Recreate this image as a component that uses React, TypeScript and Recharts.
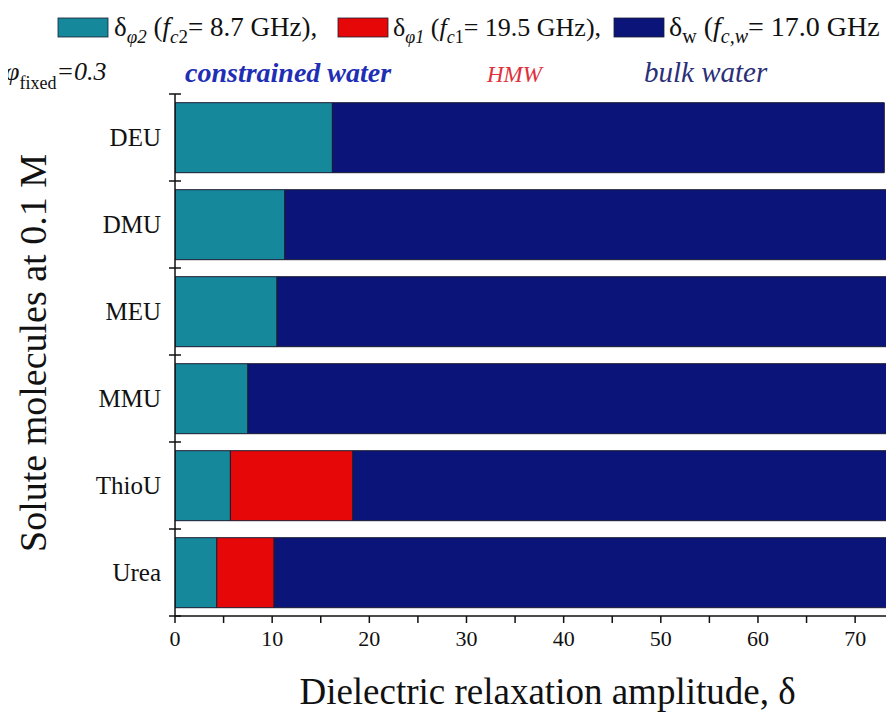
import React from 'react';
import { BarChart, Bar, XAxis, YAxis, Legend, Label } from 'recharts';

const categories = ['DEU', 'DMU', 'MEU', 'MMU', 'ThioU', 'Urea'];
const constrainedWater = [16.2, 11.3, 10.5, 7.5, 5.7, 4.3];
const hmwWater = [0, 0, 0, 0, 12.6, 5.9];
const bulkWater = [56.8, 63.7, 64.5, 67.5, 56.7, 64.8];
const xTicks = [0, 5, 10, 15, 20, 25, 30, 35, 40, 45, 50, 55, 60, 65, 70];

const data = categories.map((name, i) => ({
  name,
  phi2: constrainedWater[i],
  phi1: hmwWater[i],
  w: bulkWater[i],
}));

const FONT = '"Liberation Serif", "Times New Roman", Times, serif';
const TEAL = '#16889c';
const RED = '#e60808';
const NAVY = '#0b1479';
const EDGE = '#1c1c30';
const AXW = 0.01;
const CAT_MARGIN = 14;
const CROSS = 6;

function CatTick(props: any) {
  const { x, y, payload, index, visibleTicksCount } = props;
  const ax = x + CAT_MARGIN;
  const half = payload && typeof payload.offset === 'number' && payload.offset > 0 ? payload.offset : 0;
  const count = visibleTicksCount || categories.length;
  return (
    <g>
      <text
        x={x}
        y={y}
        textAnchor="end"
        dominantBaseline="central"
        fontSize={25}
        fontFamily={FONT}
        fill="#111"
      >
        {payload.value}
      </text>
      <line x1={ax - CROSS} x2={ax + CROSS} y1={y - half} y2={y - half} stroke="#111" strokeWidth={1.5} />
      {index === count - 1 && (
        <line x1={ax - CROSS} x2={ax + CROSS} y1={y + half} y2={y + half} stroke="#111" strokeWidth={1.5} />
      )}
    </g>
  );
}

function LegendBlock() {
  return (
    <svg width={886} height={100} style={{ display: 'block', overflow: 'visible' }} fontFamily={FONT}>
      <rect x={50} y={10} width={50} height={19} fill={TEAL} stroke={EDGE} strokeWidth={0.8} />
      <text x={106} y={28} fontSize={27} fill="#111">
        δ<tspan dy={7} fontSize={19} fontStyle="italic">φ2</tspan>
        <tspan dy={-7}> (</tspan>
        <tspan fontStyle="italic">f</tspan>
        <tspan dy={7} fontSize={19} fontStyle="italic">c</tspan>
        <tspan fontSize={19}>2</tspan>
        <tspan dy={-7}>= 8.7 GHz),</tspan>
      </text>
      <rect x={330} y={10} width={50} height={19} fill={RED} stroke={EDGE} strokeWidth={0.8} />
      <text x={385} y={28} fontSize={26} fill="#111">
        δ<tspan dy={7} fontSize={18} fontStyle="italic">φ1</tspan>
        <tspan dy={-7}> (</tspan>
        <tspan fontStyle="italic">f</tspan>
        <tspan dy={7} fontSize={18} fontStyle="italic">c</tspan>
        <tspan fontSize={18}>1</tspan>
        <tspan dy={-7}>= 19.5 GHz),</tspan>
      </text>
      <rect x={606} y={10} width={50} height={19} fill={NAVY} stroke={EDGE} strokeWidth={0.8} />
      <text x={661} y={28} fontSize={28} fill="#111">
        δ<tspan dy={7} fontSize={20}>w</tspan>
        <tspan dy={-7}> (</tspan>
        <tspan fontStyle="italic">f</tspan>
        <tspan dy={7} fontSize={20} fontStyle="italic">c,w</tspan>
        <tspan dy={-7}>= 17.0 GHz</tspan>
      </text>

      <text x={-3} y={72} fontSize={26} fill="#111" fontStyle="italic">
        φ<tspan dy={9} fontSize={18} fontStyle="normal">fixed</tspan>
        <tspan dy={-9}>=0.3</tspan>
      </text>
      <text x={177} y={74} fontSize={28} fill="#1f2fb5" fontStyle="italic" fontWeight="bold">
        constrained water
      </text>
      <text x={479} y={74} fontSize={23} fill="#e0303c" fontStyle="italic">
        HMW
      </text>
      <text x={636} y={74} fontSize={29} fill="#2b2f78" fontStyle="italic">
        bulk water
      </text>
    </svg>
  );
}

function YTitle(props: any) {
  const vb = props.viewBox || { x: 167, y: 86, width: 0, height: 522 };
  const cx = vb.x + vb.width - 142;
  const cy = vb.y + vb.height / 2 - 2;
  return (
    <text
      x={cx}
      y={cy}
      transform={`rotate(-90 ${cx} ${cy})`}
      textAnchor="middle"
      dominantBaseline="central"
      fontSize={38}
      fontFamily={FONT}
      fill="#111"
    >
      Solute molecules at 0.1 M
    </text>
  );
}

function XTitle(props: any) {
  const vb = props.viewBox || { x: 167, y: 608, width: 719, height: 104 };
  const cx = vb.x + vb.width / 2 + 13;
  const y = vb.y + 88;
  return (
    <text x={cx} y={y} textAnchor="middle" fontSize={37} fontFamily={FONT} fill="#111">
      Dielectric relaxation amplitude, δ
    </text>
  );
}

export default function App() {
  return (
    <div style={{ width: 886, height: 704, overflow: 'visible' }}>
      <BarChart
        width={886}
        height={712}
        data={data}
        layout="vertical"
        margin={{ top: 86, right: 0, bottom: 0, left: 167 }}
        barCategoryGap="10%"
        style={{ fontFamily: FONT, overflow: 'visible' }}
      >
        <Legend
          layout="horizontal"
          verticalAlign="middle"
          align="center"
          wrapperStyle={{ position: 'absolute', top: 0, left: 0, width: 886, height: 100 }}
          content={() => <LegendBlock />}
        />
        <XAxis
          type="number"
          domain={[0, 74]}
          allowDataOverflow
          ticks={xTicks}
          interval={0}
          height={104}
          tickSize={7}
          tickMargin={7}
          tickFormatter={(v: number) => (v % 10 === 0 ? String(v) : '')}
          tick={{ fontSize: 22, fill: '#111', fontFamily: FONT }}
          axisLine={{ stroke: '#111', strokeWidth: 1.5 }}
          tickLine={{ stroke: '#111', strokeWidth: 1.5 }}
        >
          <Label content={XTitle} />
        </XAxis>
        <YAxis
          yAxisId="cat"
          type="category"
          dataKey="name"
          width={AXW}
          interval={0}
          tickLine={false}
          axisLine={{ stroke: '#111', strokeWidth: 1.5 }}
          tickSize={0}
          tickMargin={CAT_MARGIN}
          tick={CatTick}
        >
          <Label content={YTitle} />
        </YAxis>
        <Bar dataKey="phi2" yAxisId="cat" stackId="s" fill={TEAL} stroke={EDGE} strokeWidth={1} isAnimationActive={false} />
        <Bar dataKey="phi1" yAxisId="cat" stackId="s" fill={RED} stroke={EDGE} strokeWidth={1} isAnimationActive={false} />
        <Bar dataKey="w" yAxisId="cat" stackId="s" fill={NAVY} stroke={EDGE} strokeWidth={1} isAnimationActive={false} />
      </BarChart>
    </div>
  );
}
